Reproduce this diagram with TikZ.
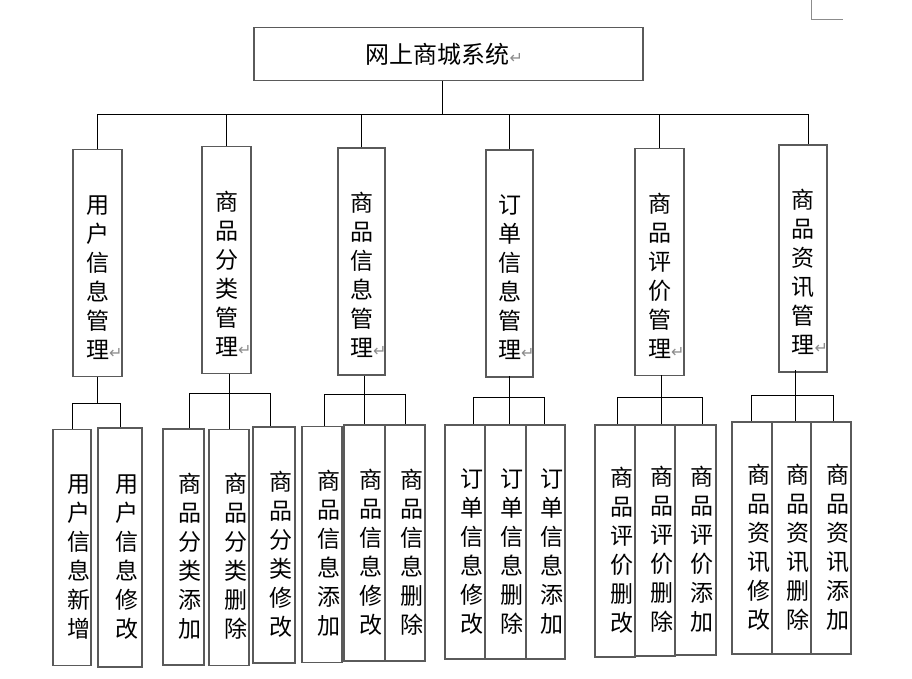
\documentclass[tikz,border=0pt]{standalone}
\usepackage{fontspec}
\usepackage{xcolor}
\usepackage{tikz}
\setmainfont{Noto Sans CJK SC}
\newfontfamily\retfont{DejaVu Sans}
\definecolor{boxgray}{HTML}{5A5A5A}
\definecolor{retgray}{HTML}{8C8C8C}
\newcommand{\ret}{\rlap{\textcolor{retgray}{\retfont\fontsize{16}{16}\selectfont ↵}}}

\begin{document}
\begin{tikzpicture}[x=1pt,y=-1pt,
  box/.style={draw=boxgray,line width=1.2pt,inner sep=0pt,align=center},
  rootbox/.style={box,minimum width=389pt,minimum height=53pt,font=\fontsize{24}{24}\selectfont},
  midbox/.style={box,minimum height=227pt,text width=30pt,font=\fontsize{23}{29}\selectfont,execute at begin node={\rule{0pt}{47pt}}},
  leafbox/.style={box,minimum height=236pt,text width=36pt,align=right,font=\fontsize{23}{29}\selectfont,execute at begin node={\rule{0pt}{37pt}}},
  wire/.style={line width=0.9pt}]
\useasboundingbox (0,0) rectangle (912,679);
\draw[retgray,line width=0.8pt] (811,0) -- (811,19) -- (843,19);
% system and its six modules
\node[rootbox] (root) at (448.5,54) {网上商城系统\ret\hspace*{22pt}};
\node[midbox,minimum width=49pt] (user) at (97.5,263) {用\\户\\信\\息\\管\\理\ret};
\node[midbox,minimum width=49pt] (sort) at (226.5,260) {商\\品\\分\\类\\管\\理\ret};
\node[midbox,minimum width=47pt] (goods) at (361.5,261.5) {商\\品\\信\\息\\管\\理\ret};
\node[midbox,minimum width=47pt] (order) at (509.5,263.5) {订\\单\\信\\息\\管\\理\ret};
\node[midbox,minimum width=49pt] (review) at (659.5,262) {商\\品\\评\\价\\管\\理\ret};
\node[midbox,minimum width=48pt] (news) at (803,258.5) {商\\品\\资\\讯\\管\\理\ret};
% functions
\node[leafbox,minimum width=38pt] (a1) at (72,547.5) {用\\户\\信\\息\\新\\增};
\node[leafbox,minimum width=44pt,minimum height=239pt] (a2) at (120,547.5) {用\\户\\信\\息\\修\\改};
\node[leafbox,minimum width=41pt] (b1) at (183.5,547) {商\\品\\分\\类\\添\\加};
\node[leafbox,minimum width=40pt] (b2) at (229,547.5) {商\\品\\分\\类\\删\\除};
\node[leafbox,minimum width=42pt] (b3) at (274,545) {商\\品\\分\\类\\修\\改};
\node[leafbox,minimum width=40pt] (c1) at (322,544.5) {商\\品\\信\\息\\添\\加};
\node[leafbox,minimum width=41pt] (c2) at (364.5,543) {商\\品\\信\\息\\修\\改};
\node[leafbox,minimum width=40pt] (c3) at (405,543) {商\\品\\信\\息\\删\\除};
\node[leafbox,minimum width=40pt,minimum height=234pt] (d1) at (465,542) {订\\单\\信\\息\\修\\改};
\node[leafbox,minimum width=41pt,minimum height=234pt] (d2) at (505.5,542) {订\\单\\信\\息\\删\\除};
\node[leafbox,minimum width=39pt,minimum height=234pt] (d3) at (545.5,542) {订\\单\\信\\息\\添\\加};
\node[leafbox,minimum width=40pt,minimum height=232pt] (e1) at (615,541) {商\\品\\评\\价\\删\\改};
\node[leafbox,minimum width=40pt,minimum height=231pt] (e2) at (655,540.5) {商\\品\\评\\价\\删\\除};
\node[leafbox,minimum width=41pt,minimum height=230pt] (e3) at (695.5,540) {商\\品\\评\\价\\添\\加};
\node[leafbox,minimum width=40pt,minimum height=232pt] (f1) at (752,538) {商\\品\\资\\讯\\修\\改};
\node[leafbox,minimum width=39pt,minimum height=232pt] (f2) at (791.5,538) {商\\品\\资\\讯\\删\\除};
\node[leafbox,minimum width=40pt,minimum height=232pt] (f3) at (831,538) {商\\品\\资\\讯\\添\\加};
% top level links
\coordinate (bus) at (442,114);
\draw[wire] (root.south -| bus) -- (bus);
\draw[wire] (user.north) |- ([xshift=5pt]news.north |- bus) -- ([xshift=5pt]news.north);
\draw[wire] (sort.north) -- (sort.north |- bus);
\draw[wire] (goods.north) -- (goods.north |- bus);
\draw[wire] (order.north) -- (order.north |- bus);
\draw[wire] (review.north) -- (review.north |- bus);
% module to function links
\draw[wire] (user.south) -- ++(0,27);
\draw[wire] (a1.north) -- ++(0,-25) -| (a2.north);
\draw[wire] (b2.north) -- (b2.north |- sort.south);
\draw[wire] ([xshift=5.5pt]b1.north) -- ++(0,-35) -| ([xshift=-4pt]b3.north);
\draw[wire] (c2.north) -- (c2.north |- goods.south);
\draw[wire] ([xshift=2pt]c1.north) -- ++(0,-31) -| (c3.north);
\draw[wire] ([xshift=3.5pt]d2.north) -- ++(0,-48);
\draw[wire] ([xshift=8pt]d1.north) -- ++(0,-27) -| ([xshift=-1.5pt]d3.north);
\draw[wire] ([xshift=6pt]e2.north) -- ++(0,-49);
\draw[wire] ([xshift=2pt]e1.north) -- ++(0,-27) -| ([xshift=6.5pt]e3.north);
\draw[wire] ([xshift=3.5pt]f2.north) -- ++(0,-51);
\draw[wire] ([xshift=-1pt]f1.north) -- ++(0,-26) -| ([xshift=2pt]f3.north);
\end{tikzpicture}
\end{document}
